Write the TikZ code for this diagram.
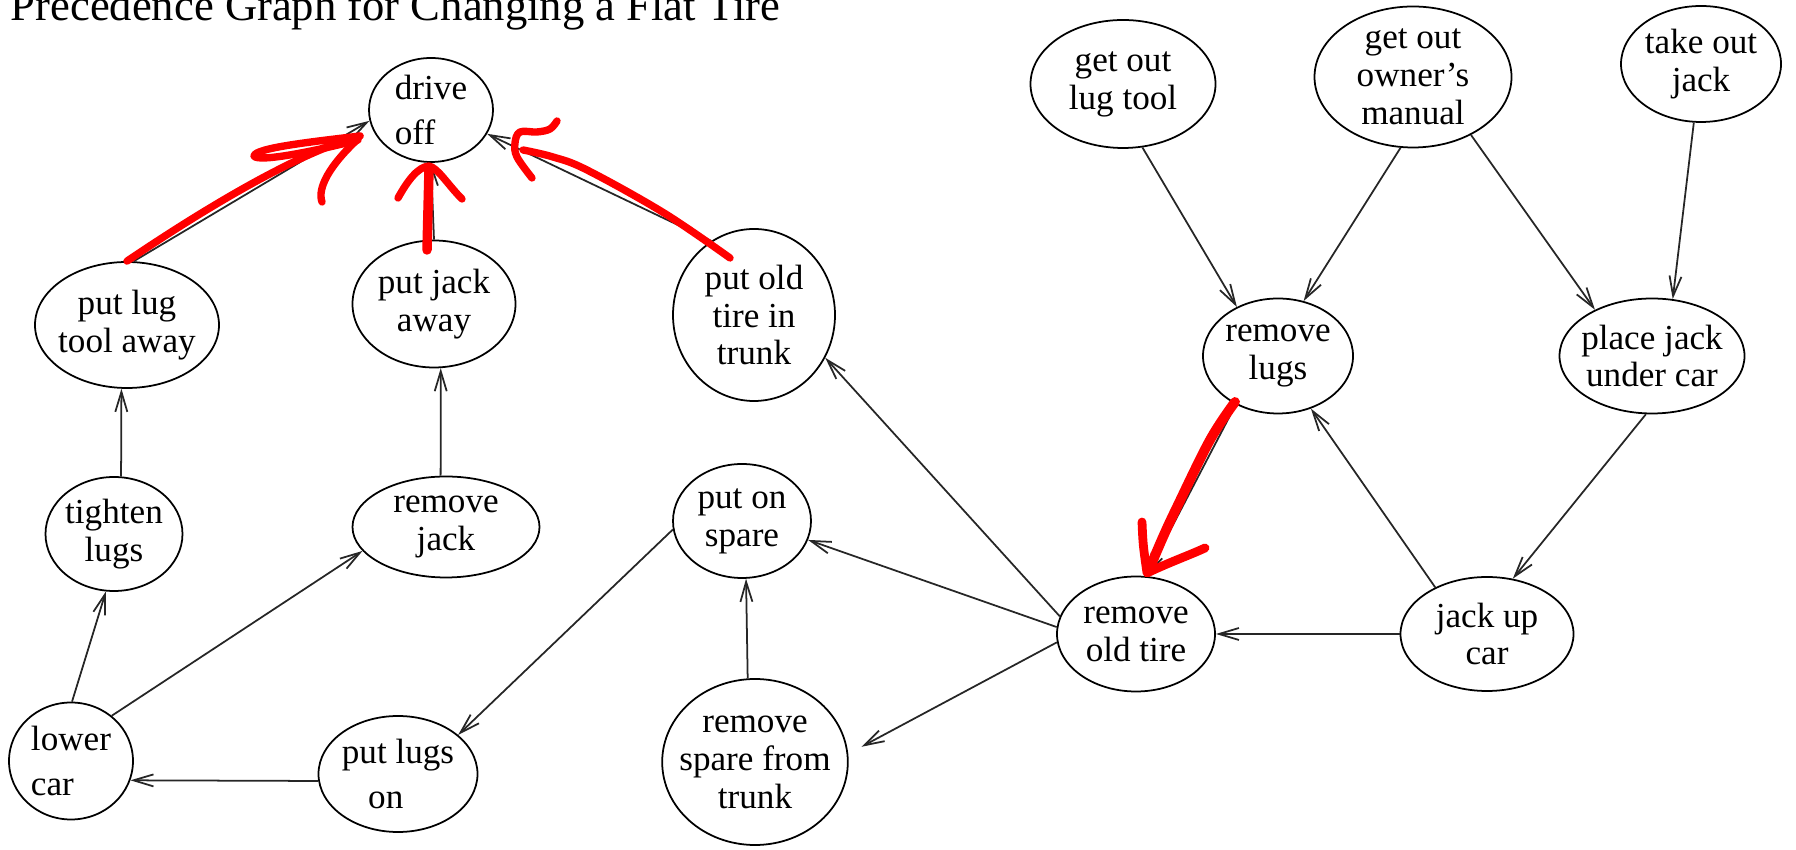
\documentclass[tikz,border=0pt]{standalone}
\usepackage{fontspec}
\setmainfont{Liberation Serif}
\usetikzlibrary{shapes.geometric,arrows.meta}

\begin{document}
\begin{tikzpicture}[main/.style = {draw, ellipse, line width=0.5pt, inner sep=-1mm, align=center, font=\fontsize{10}{10.8}\selectfont},
oval/.style 2 args = {minimum width=#1cm, minimum height=#2cm},
wide/.style = {align=left, font=\fontsize{10}{13}\selectfont},
prec/.style = {-{Straight Barb[length=2mm,width=1.2mm]}, line width=0.5pt, black!85},
redpen/.style = {red, line width=2.1pt, line cap=round, line join=round},
node distance={2cm}]
\useasboundingbox (0,0) rectangle (17.96,-8.50);
\node[anchor=base west, inner sep=0pt, font=\fontsize{12.7}{15}\selectfont] (title) at (0.10,-0.21) {Precedence Graph for Changing a Flat Tire};
\node[main, oval={1.24}{1.04}, wide] (1) at (4.31,-1.10) {drive\\off};
\node[main, oval={1.63}{1.27}] (3) [below of=1, node distance=1.94cm, xshift=0.3mm] {put jack\\away};
\node[main, oval={1.84}{1.26}] (2) [left of=3, node distance=3.07cm, yshift=-2.1mm] {put lug\\tool away};
\node[main, oval={1.62}{1.72}] (4) [right of=3, node distance=3.20cm, yshift=-1.1mm] {put old\\tire in\\trunk};
\node[main, oval={1.37}{1.14}] (5) [below of=2, node distance=2.09cm, xshift=-1.3mm] {tighten\\lugs};
\node[main, oval={1.87}{1.01}] (6) [below of=3, node distance=2.23cm, xshift=1.2mm] {remove\\jack};
\node[main, oval={1.38}{1.14}] (7) [below of=4, node distance=2.06cm, xshift=-1.2mm] {put on\\spare};
\node[main, oval={1.24}{1.17}, wide] (8) [below of=5, node distance=2.27cm, xshift=-4.3mm] {lower\\car};
\node[main, oval={1.59}{1.16}, wide] (9) [right of=8, node distance=3.27cm, yshift=-1.3mm] {put lugs\\\ \ \ on};
\node[main, oval={1.84}{1.66}] (10) [below of=7, node distance=2.41cm, xshift=1.3mm] {remove\\spare from\\trunk};
\node[main, oval={1.58}{1.15}] (11) [right of=7, node distance=3.94cm, yshift=-11.3mm] {remove\\old tire};
\node[main, oval={1.73}{1.14}] (12) [right of=11, node distance=3.51cm] {jack up\\car};
\node[main, oval={1.50}{1.15}] (13) [above of=11, node distance=2.78cm, xshift=14.2mm] {remove\\lugs};
\node[main, oval={1.85}{1.15}] (14) [right of=13, node distance=3.74cm] {place jack\\under car};
\node[main, oval={1.85}{1.28}] (15) [above of=13, node distance=2.72cm, xshift=-15.5mm] {get out\\lug tool};
\node[main, oval={1.97}{1.41}] (16) [right of=15, node distance=2.90cm, yshift=0.7mm] {get out\\owner's\\manual};
\node[main, oval={1.60}{1.16}] (17) [right of=16, node distance=2.88cm, yshift=1.3mm] {take out\\jack};
\draw[prec] (2.84) -- (1.190);
\draw[prec] (3.north) -- (1.south);
\draw[prec] (4.120) -- (1.337);
\draw[prec] (5.83) -- (2.265);
\draw[prec] (6.96) -- (3.276);
\draw[prec] (8.89) -- (5.262);
\draw[prec] (8.48) -- (6.196);
\draw[prec] (9.185) -- (8.342);
\draw[prec] (7.187) -- (9.33);
\draw[prec] (10.95) -- (7.274);
\draw[prec] (11.175) -- (7.344);
\draw[prec] (11.167) -- (4.329);
\draw[prec, shorten >=1.5mm] (11.186) -- (10.5);
\draw[prec] (12.west) -- (11.east);
\draw[prec] (12.138) -- (13.302);
\draw[prec] (14.264) -- (12.65);
\draw[prec] (15.287) -- (13.130);
\draw[prec] (16.260) -- (13.65);
\draw[prec] (16.315) -- (14.141);
\draw[prec] (17.263) -- (14.70);
\draw[prec] (13.229) -- (11.80);
\draw[redpen] (2.north) .. controls (2.1,-2.05) and (3.0,-1.52) .. (3.60,-1.36);
\draw[redpen] (3.60,-1.36) .. controls (3.1,-1.42) and (2.55,-1.48) .. (2.54,-1.56) .. controls (2.58,-1.63) and (3.2,-1.50) .. (3.58,-1.40);
\draw[redpen] (3.22,-2.02) .. controls (3.17,-1.88) and (3.30,-1.65) .. (3.58,-1.39);
\draw[redpen, line width=2.7pt] (4.27,-2.50) -- (4.29,-1.70);
\draw[redpen] (3.98,-1.98) .. controls (4.08,-1.80) and (4.18,-1.67) .. (4.29,-1.66) .. controls (4.38,-1.68) and (4.48,-1.85) .. (4.62,-1.99);
\draw[redpen] plot[smooth, tension=0.6] coordinates {(7.30,-2.58) (6.64,-2.13) (5.87,-1.70) (5.53,-1.57) (5.23,-1.50)};
\draw[redpen] plot[smooth, tension=0.6] coordinates {(5.32,-1.78) (5.17,-1.57) (5.15,-1.43) (5.20,-1.32) (5.37,-1.32) (5.50,-1.29) (5.57,-1.21)};
\draw[redpen, line width=2.8pt] plot[smooth, tension=0.6] coordinates {(12.35,-4.02) (12.10,-4.40) (11.77,-5.07) (11.63,-5.37) (11.48,-5.72)};
\draw[redpen, line width=2.5pt] (11.42,-5.22) .. controls (11.43,-5.45) .. (11.47,-5.73) .. controls (11.70,-5.62) and (11.90,-5.55) .. (12.05,-5.48);
\end{tikzpicture}
\end{document}
